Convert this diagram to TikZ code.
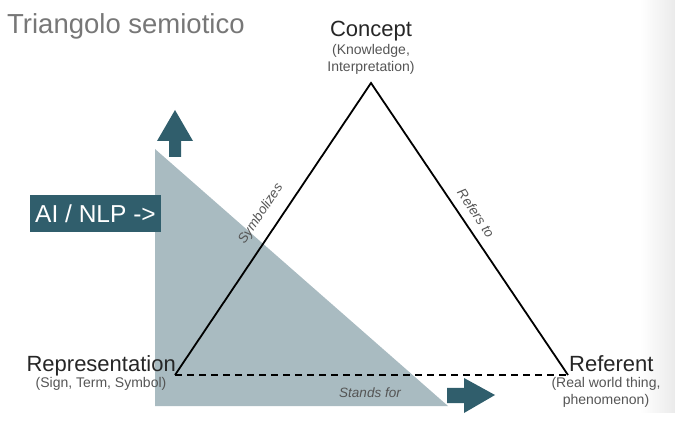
\documentclass[tikz,border=0pt]{standalone}
\usepackage{fontspec}
\setmainfont{Liberation Sans}
\usetikzlibrary{calc}
\definecolor{teal}{HTML}{305E6C}
\definecolor{paleblue}{HTML}{A9BBC1}
\definecolor{titlegray}{HTML}{777777}
\definecolor{subgray}{HTML}{555555}
\begin{document}
\begin{tikzpicture}[x=1pt,y=-1pt,
  mainlbl/.style={font=\fontsize{22}{25}\selectfont, text=black!85, inner sep=0pt},
  sublbl/.style={font=\fontsize{14}{17}\selectfont, text=subgray, inner sep=0pt, align=center},
  edgelbl/.style={font=\fontsize{13.5}{15}\selectfont\itshape, text=subgray, inner sep=0pt},
  tri/.style={line width=1.8pt, black},
  dashline/.style={line width=2.2pt, black, dash pattern=on 7pt off 5pt},
  fatarrow/.style={fill=teal, draw=none}]
\useasboundingbox (0,0) rectangle (675,430);
\shade[left color=white, right color=black!8, draw=none] (640,0) rectangle (675,412);
% title
\node[anchor=base west, font=\fontsize{27.5}{31}\selectfont, text=titlegray, inner sep=0pt] (title) at (7,34) {Triangolo semiotico};
% gray triangle
\fill[paleblue] (155,149) -- (155,406) -- (448,406) -- cycle;
% arrows
\fill[fatarrow] (175,110) -- (193,141) -- (181,141) -- (181,157) -- (169,157) -- (169,141) -- (157,141) -- cycle;
\fill[fatarrow] (495,395) -- (464,413) -- (464,403) -- (447,403) -- (447,388) -- (464,388) -- (464,378) -- cycle;
% AI box
\node[fill=teal, text=white, font=\fontsize{24.5}{28}\selectfont, minimum width=131pt, minimum height=37pt, inner sep=0pt] (ai) at (95.5,213.5) {AI / NLP ->};
% vertices
\coordinate (C) at (371,83);
\coordinate (R) at (175,375);
\coordinate (F) at (568,375);
\draw[tri, line join=miter] (R) -- (C) -- (F);
\draw[dashline] (R) -- (F);
% labels
\node[mainlbl, anchor=base] (concept) at (371,37) {Concept};
\node[sublbl, anchor=north] (conceptsub) at (371,44) {(Knowledge,\\Interpretation)};
\node[mainlbl, anchor=base east] (repr) at (176,372) {Representation};
\node[sublbl, anchor=north] (reprsub) at (101,377) {(Sign, Term, Symbol)};
\node[mainlbl, anchor=base west] (ref) at (569,372) {Referent};
\node[sublbl, anchor=north] (refsub) at (606,377) {(Real world thing,\\phenomenon)};
\node[edgelbl, rotate=56.1] (symb) at (261,214) {Symbolizes};
\node[edgelbl, rotate=-56] (refto) at (476,213) {Refers to};
\node[edgelbl] (stands) at (370,393) {Stands for};
\end{tikzpicture}
\end{document}
